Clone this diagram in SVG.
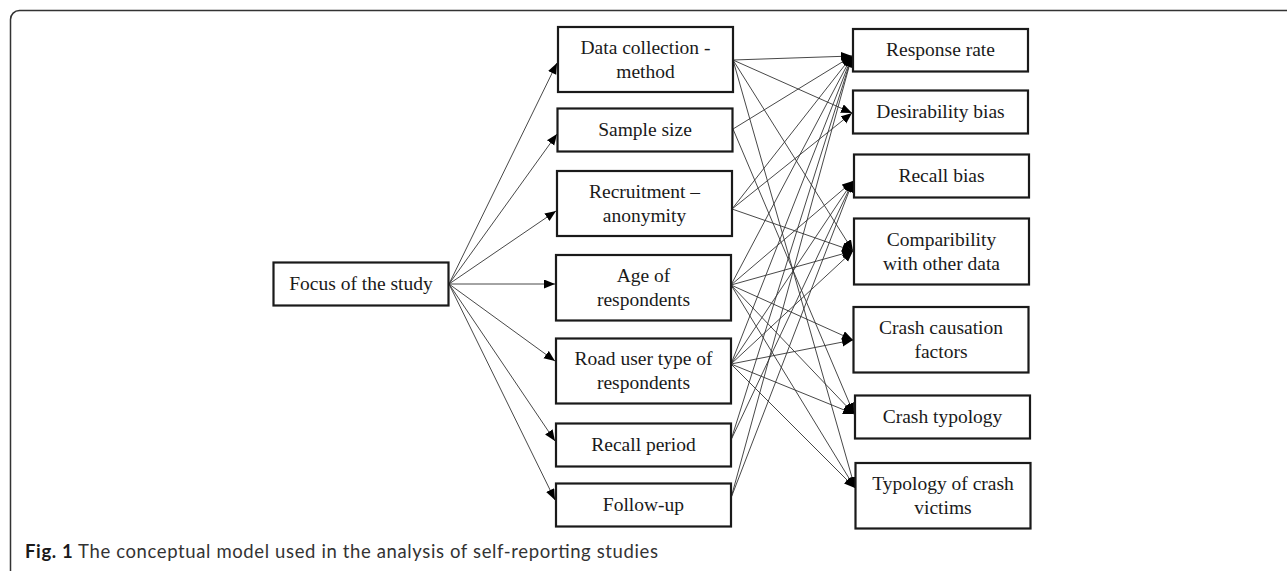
<svg xmlns="http://www.w3.org/2000/svg" width="1287" height="571" viewBox="0 0 1287 571">
<style>
.box{fill:#fff;stroke:#1a1a1a;stroke-width:2.2}
.t{font-family:"Liberation Serif","Times New Roman",serif;font-size:19.5px;fill:#1a1a1a;text-anchor:middle}
.c{stroke:#333;stroke-width:0.9;fill:none;marker-end:url(#ah)}
.cap{font-family:Lato,"Open Sans",sans-serif;font-size:18.5px;fill:#333}
</style>
<defs>
<marker id="ah" markerUnits="userSpaceOnUse" markerWidth="12" markerHeight="10" refX="11" refY="4.5" orient="auto">
<path d="M0,0 L11,4.5 L0,9 z" fill="#000"/>
</marker>
</defs>
<rect width="1287" height="571" fill="#fff"/>
<path d="M1300,10.5 H19.5 A9 9 0 0 0 10.5 19.5 V575" fill="none" stroke="#333" stroke-width="1.5"/>

<g id="connectors">
<line class="c" x1="449" y1="284" x2="557" y2="63"/>
<line class="c" x1="449" y1="284" x2="557" y2="134"/>
<line class="c" x1="449" y1="284" x2="556" y2="211"/>
<line class="c" x1="449" y1="284" x2="555" y2="284"/>
<line class="c" x1="449" y1="284" x2="555" y2="361"/>
<line class="c" x1="449" y1="284" x2="555" y2="441"/>
<line class="c" x1="449" y1="284" x2="555" y2="500"/>

<line class="c" x1="733" y1="60" x2="852" y2="56"/>
<line class="c" x1="733" y1="60" x2="852" y2="113"/>
<line class="c" x1="733" y1="60" x2="853" y2="251"/>
<line class="c" x1="733" y1="60" x2="855" y2="488"/>

<line class="c" x1="733" y1="129" x2="852" y2="56"/>
<line class="c" x1="733" y1="129" x2="854" y2="414"/>

<line class="c" x1="732" y1="209" x2="852" y2="56"/>
<line class="c" x1="732" y1="209" x2="852" y2="113"/>
<line class="c" x1="732" y1="209" x2="853" y2="251"/>

<line class="c" x1="731" y1="285" x2="852" y2="56"/>
<line class="c" x1="731" y1="285" x2="853" y2="181"/>
<line class="c" x1="731" y1="285" x2="853" y2="251"/>
<line class="c" x1="731" y1="285" x2="853" y2="340"/>
<line class="c" x1="731" y1="285" x2="854" y2="414"/>
<line class="c" x1="731" y1="285" x2="855" y2="488"/>

<line class="c" x1="731" y1="364" x2="852" y2="56"/>
<line class="c" x1="731" y1="364" x2="853" y2="181"/>
<line class="c" x1="731" y1="364" x2="853" y2="251"/>
<line class="c" x1="731" y1="364" x2="853" y2="340"/>
<line class="c" x1="731" y1="364" x2="854" y2="414"/>
<line class="c" x1="731" y1="364" x2="855" y2="488"/>

<line class="c" x1="731" y1="440" x2="852" y2="56"/>
<line class="c" x1="731" y1="440" x2="853" y2="181"/>

<line class="c" x1="731" y1="498" x2="852" y2="56"/>
<line class="c" x1="731" y1="498" x2="853" y2="181"/>
</g>

<g id="focus">
<rect class="box" x="273.5" y="262.5" width="175" height="43"/>
<text class="t" x="361" y="290">Focus of the study</text>
</g>

<g id="data-collection">
<rect class="box" x="558" y="27" width="175" height="65"/>
<text class="t" x="645.5" y="53.5">Data collection -</text>
<text class="t" x="645.5" y="77.5">method</text>
</g>
<g id="sample-size">
<rect class="box" x="557.5" y="108.5" width="175" height="43"/>
<text class="t" x="645" y="136">Sample size</text>
</g>
<g id="recruitment">
<rect class="box" x="557" y="171" width="175" height="65"/>
<text class="t" x="644.5" y="197.5">Recruitment –</text>
<text class="t" x="644.5" y="221.5">anonymity</text>
</g>
<g id="age">
<rect class="box" x="556" y="255" width="175" height="65.5"/>
<text class="t" x="643.5" y="282">Age of</text>
<text class="t" x="643.5" y="306">respondents</text>
</g>
<g id="road-user">
<rect class="box" x="556" y="338.5" width="175" height="65"/>
<text class="t" x="643.5" y="365">Road user type of</text>
<text class="t" x="643.5" y="389">respondents</text>
</g>
<g id="recall-period">
<rect class="box" x="556" y="423.5" width="175" height="43"/>
<text class="t" x="643.5" y="451">Recall period</text>
</g>
<g id="follow-up">
<rect class="box" x="556" y="483.5" width="175" height="43"/>
<text class="t" x="643.5" y="511">Follow-up</text>
</g>

<g id="response-rate">
<rect class="box" x="853" y="29" width="175" height="42.5"/>
<text class="t" x="940.5" y="56">Response rate</text>
</g>
<g id="desirability-bias">
<rect class="box" x="853" y="90.5" width="175" height="43"/>
<text class="t" x="940.5" y="118">Desirability bias</text>
</g>
<g id="recall-bias">
<rect class="box" x="854" y="154.5" width="175" height="43"/>
<text class="t" x="941.5" y="182">Recall bias</text>
</g>
<g id="comparibility">
<rect class="box" x="854" y="218.5" width="175" height="66"/>
<text class="t" x="941.5" y="245.5">Comparibility</text>
<text class="t" x="941.5" y="269.5">with other data</text>
</g>
<g id="crash-causation">
<rect class="box" x="853.5" y="307" width="175" height="65.5"/>
<text class="t" x="941" y="333.5">Crash causation</text>
<text class="t" x="941" y="357.5">factors</text>
</g>
<g id="crash-typology">
<rect class="box" x="855" y="395.5" width="175" height="43"/>
<text class="t" x="942.5" y="423">Crash typology</text>
</g>
<g id="typology-victims">
<rect class="box" x="855.5" y="463" width="175" height="65.5"/>
<text class="t" x="943" y="489.5">Typology of crash</text>
<text class="t" x="943" y="513.5">victims</text>
</g>

<text class="cap" x="25" y="558" textLength="633"><tspan font-weight="bold" fill="#1a1a1a">Fig. 1</tspan> The conceptual model used in the analysis of self-reporting studies</text>
</svg>
